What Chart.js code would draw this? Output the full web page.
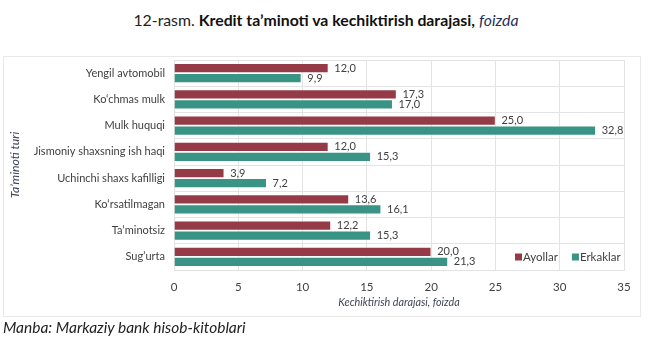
<!DOCTYPE html>
<html>
<head>
<meta charset="utf-8">
<script src="https://cdn.jsdelivr.net/npm/chart.js@4/dist/chart.umd.min.js"></script>
<style>
  html, body { margin: 0; padding: 0; background: #fff; }
  #page { position: relative; width: 652px; height: 351px; overflow: hidden; }
  #title { position: absolute; left: 0; width: 652px; text-align: center; top: 10px; font-family: Lato, "Open Sans", sans-serif; font-size: 15.8px; color: #111; white-space: nowrap; }
  #title .n { font-weight: 400; color: #222; }
  #title .b { font-weight: 700; }
  #title .i { font-style: italic; font-weight: 400; color: #1f2f5a; }
  #box { position: absolute; left: 3px; top: 56px; width: 636px; height: 259px; border: 1px solid #e8e8e8; }
  #source { position: absolute; left: 3px; top: 318px; font-family: Lato, "Open Sans", sans-serif; font-style: italic; font-size: 15.5px; color: #222; white-space: nowrap; }
  canvas { position: absolute; left: 0; top: 0; }
</style>
</head>
<body>
<div id="page">
  <div id="title"><span class="n">12-rasm.</span> <span class="b">Kredit ta’minoti va kechiktirish darajasi,</span> <span class="i">foizda</span></div>
  <div id="box"></div>
  <canvas id="c" width="652" height="351"></canvas>
  <div id="source">Manba: Markaziy bank hisob-kitoblari</div>
</div>
<script>
const categories = [
  "Yengil avtomobil",
  "Ko‘chmas mulk",
  "Mulk huquqi",
  "Jismoniy shaxsning ish haqi",
  "Uchinchi shaxs kafilligi",
  "Ko‘rsatilmagan",
  "Ta’minotsiz",
  "Sug’urta"
];
const seriesNames = ["Ayollar", "Erkaklar"];
const ayollar = [12.0, 17.3, 25.0, 12.0, 3.9, 13.6, 12.2, 20.0];
const erkaklar = [9.9, 17.0, 32.8, 15.3, 7.2, 16.1, 15.3, 21.3];
const xTicks = [0, 5, 10, 15, 20, 25, 30, 35];
const xAxisTitle = "Kechiktirish darajasi, foizda";
const yAxisTitle = "Ta’minoti turi";

const colors = ["#953b47", "#3a9486"];
const FONT = "Lato, 'Open Sans', sans-serif";
const TEXT = "#404040";
const AXTITLE = "#3e4656";
const GRID = "#e3e3e3";

const valueLabels = {
  id: "valueLabels",
  afterDatasetsDraw(chart) {
    const ctx = chart.ctx;
    ctx.save();
    ctx.font = "11px " + FONT;
    ctx.fillStyle = TEXT;
    ctx.textAlign = "left";
    ctx.textBaseline = "middle";
    chart.data.datasets.forEach((ds, di) => {
      const meta = chart.getDatasetMeta(di);
      meta.data.forEach((el, i) => {
        const v = ds.data[i];
        ctx.fillText(v.toFixed(1).replace(".", ","), el.x + 6, el.y);
      });
    });
    ctx.restore();
  }
};

const innerLegend = {
  id: "innerLegend",
  afterDraw(chart) {
    const ctx = chart.ctx;
    const area = chart.chartArea;
    ctx.save();
    ctx.font = "11.5px " + FONT;
    ctx.textBaseline = "middle";
    ctx.textAlign = "left";
    const y = area.bottom - 13;
    let x = area.left + (515 - 174);
    chart.data.datasets.forEach((ds, di) => {
      ctx.fillStyle = ds.backgroundColor;
      ctx.fillRect(x, y - 3.5, 7, 7);
      ctx.fillStyle = TEXT;
      ctx.fillText(ds.label, x + 8, y);
      x += 8 + ctx.measureText(ds.label).width + 14;
    });
    ctx.restore();
  }
};

new Chart(document.getElementById("c"), {
  type: "bar",
  data: {
    labels: categories,
    datasets: [
      { label: seriesNames[0], data: ayollar, backgroundColor: colors[0], borderColor: "rgba(255,255,255,0.6)", borderWidth: 0.6, barPercentage: 0.96, categoryPercentage: 0.76 },
      { label: seriesNames[1], data: erkaklar, backgroundColor: colors[1], borderColor: "rgba(255,255,255,0.6)", borderWidth: 0.6, barPercentage: 0.96, categoryPercentage: 0.76 }
    ]
  },
  options: {
    indexAxis: "y",
    responsive: false,
    animation: false,
    layout: { padding: { left: 0, right: 28, top: 60, bottom: 41 } },
    plugins: {
      legend: { display: false },
      tooltip: { enabled: false }
    },
    scales: {
      x: {
        min: 0,
        max: 35,
        afterBuildTicks(scale) { scale.ticks = xTicks.map(v => ({ value: v })); },
        afterFit(scale) { scale.height = 40; },
        ticks: { padding: 10, color: TEXT, font: { family: FONT, size: 11.5 } },
        grid: { color: GRID, drawTicks: false },
        border: { color: GRID },
        title: { display: true, text: xAxisTitle, color: AXTITLE, padding: { top: 0, bottom: 1 }, font: { family: FONT, size: 10.8, style: "italic" } }
      },
      y: {
        afterFit(scale) { scale.width = 174; },
        ticks: { padding: 9, color: TEXT, font: { family: FONT, size: 11 } },
        grid: { color: GRID, drawTicks: false, offset: true },
        border: { color: GRID },
        title: { display: true, text: yAxisTitle, color: AXTITLE, padding: { top: 8, bottom: 0 }, font: { family: FONT, size: 12.2, style: "italic" } }
      }
    }
  },
  plugins: [valueLabels, innerLegend]
});
</script>
</body>
</html>
